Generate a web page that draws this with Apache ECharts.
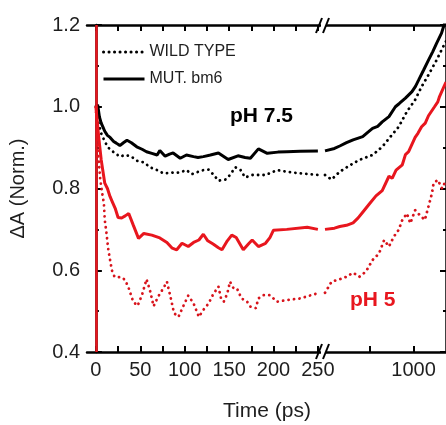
<!DOCTYPE html>
<html>
<head>
<meta charset="utf-8">
<script src="https://cdn.jsdelivr.net/npm/echarts@6/dist/echarts.min.js"></script>
<style>
  html, body { margin: 0; padding: 0; background: #fff; }
  #chart { width: 446px; height: 425px; }
</style>
</head>
<body>
<div id="chart"></div>
<script>
// Normalised transient absorption decays, [time in ps, ΔA]
const wildType75 = [
  [0,1.0],[3,0.96],[6,0.935],[10,0.915],[14,0.9],[18,0.892],[22,0.886],[27,0.878],[33,0.882],[40,0.878],
  [46,0.868],[54,0.864],[61,0.852],[69,0.845],[76,0.837],[86,0.839],[91,0.838],[97,0.841],[102,0.845],
  [108,0.835],[114,0.84],[121,0.845],[127,0.846],[132,0.835],[138,0.819],[146,0.822],[151,0.833],
  [157,0.852],[163,0.845],[168,0.827],[176,0.833],[191,0.833],[204,0.845],[215,0.841],[230,0.837],[250,0.833],
  [257,0.833],[277,0.822],[315,0.841],[370,0.857],[428,0.87],[526,0.882],[612,0.902],[697,0.927],
  [792,0.951],[900,0.988],[1024,1.017],[1133,1.049],[1262,1.078],[1432,1.114],[1588,1.147],[1660,1.16]
];
const mutant75 = [
  [0,1.0],[2,1.005],[4,0.975],[6,0.96],[8,0.95],[10,0.94],[13,0.93],[16,0.925],[20,0.915],[23,0.911],
  [27,0.905],[31,0.912],[35,0.918],[40,0.912],[46,0.902],[52,0.896],[57,0.89],[63,0.886],[69,0.882],
  [72,0.893],[78,0.879],[83,0.884],[87,0.887],[95,0.874],[102,0.882],[110,0.878],[115,0.876],[121,0.878],
  [129,0.882],[138,0.887],[149,0.871],[160,0.88],[168,0.876],[174,0.874],[183,0.897],[193,0.886],
  [205,0.889],[215,0.89],[230,0.891],[250,0.892],
  [257,0.894],[290,0.898],[315,0.904],[350,0.912],[388,0.919],[451,0.927],[490,0.938],[526,0.947],
  [570,0.952],[612,0.963],[680,0.976],[752,1.0],[800,1.008],[880,1.021],[975,1.037],[1030,1.05],
  [1081,1.065],[1170,1.09],[1262,1.114],[1350,1.135],[1432,1.155],[1548,1.18],[1610,1.2],[1660,1.215]
];
const wildType5 = [
  [0,1.0],[2,0.9],[5,0.82],[7,0.79],[9,0.764],[10,0.723],[12,0.69],[14,0.65],[16,0.625],[18,0.6],
  [21,0.584],[25,0.583],[29,0.583],[33,0.576],[37,0.556],[42,0.523],[47,0.513],[52,0.54],[57,0.578],
  [61,0.55],[65,0.512],[70,0.535],[76,0.556],[80,0.572],[84,0.535],[88,0.495],[93,0.486],[99,0.515],
  [104,0.538],[110,0.519],[116,0.486],[121,0.503],[127,0.519],[132,0.541],[138,0.56],[141,0.53],
  [144,0.523],[148,0.543],[151,0.572],[155,0.556],[159,0.555],[164,0.531],[170,0.524],[174,0.511],
  [180,0.507],[183,0.531],[189,0.539],[196,0.539],[204,0.523],[215,0.527],[230,0.531],[247,0.542],[250,0.545],
  [257,0.552],[277,0.572],[315,0.578],[349,0.584],[388,0.594],[428,0.584],[475,0.597],[526,0.625],
  [582,0.641],[631,0.674],[680,0.658],[733,0.682],[792,0.699],[838,0.723],[900,0.739],[950,0.715],
  [1024,0.747],[1100,0.735],[1192,0.723],[1262,0.756],[1332,0.788],[1367,0.813],[1460,0.821],[1560,0.8],[1660,0.82]
];
const mutant5 = [
  [0,1.0],[3,0.93],[6,0.87],[10,0.813],[13,0.8],[16,0.78],[19,0.765],[22,0.75],[25,0.729],[29,0.728],
  [33,0.733],[37,0.739],[42,0.711],[48,0.678],[54,0.69],[63,0.686],[72,0.679],[80,0.668],[86,0.654],
  [91,0.65],[97,0.666],[104,0.658],[110,0.668],[116,0.674],[121,0.688],[126,0.672],[132,0.664],
  [138,0.655],[142,0.65],[148,0.672],[153,0.686],[158,0.68],[166,0.65],[172,0.665],[176,0.674],
  [183,0.658],[191,0.666],[196,0.68],[200,0.698],[215,0.7],[238,0.705],[250,0.7],
  [257,0.702],[290,0.703],[315,0.707],[350,0.71],[388,0.716],[420,0.728],[451,0.742],[500,0.762],
  [555,0.782],[612,0.795],[680,0.83],[715,0.825],[760,0.845],[838,0.858],[880,0.883],[925,0.89],
  [1024,0.925],[1070,0.935],[1133,0.951],[1200,0.96],[1262,0.978],[1387,1.0],[1460,1.012],[1500,1.025],
  [1588,1.045],[1660,1.06]
];

// Axis ticks and labels
const linTicks = [0, 25, 50, 75, 100, 125, 150, 175, 200, 225, 250];
const linLabels = [0, 50, 100, 150, 200, 250];
const logTicks = [500, 1000];
const logLabels = [1000];
const yMin = 0.4, yMax = 1.2, yStep = 0.2;

const BREAK_T = 250;
const FONT = 'Liberation Sans, Arial, sans-serif';
const INK = '#1e1e1e';
const RED = '#e8161e';

const beforeBreak = d => d.filter(p => p[0] <= BREAK_T);
const afterBreak = d => d.filter(p => p[0] >= BREAK_T);

const solid = (color) => ({ color, width: 3, type: 'solid' });
const dotted = (color) => ({ color, width: 2.8, type: [0.1, 5.4], cap: 'round' });

function pair(name, data, style, extra) {
  return [
    Object.assign({ name, type: 'line', xAxisIndex: 0, yAxisIndex: 0, data: beforeBreak(data),
      symbol: 'none', lineStyle: style, itemStyle: { color: style.color }, z: 3 }, extra || {}),
    { name, type: 'line', xAxisIndex: 2, yAxisIndex: 1, data: afterBreak(data),
      symbol: 'none', lineStyle: style, itemStyle: { color: style.color }, z: 3 }
  ];
}

const spine = { show: true, lineStyle: { color: '#000', width: 2.5 } };
const tick = (vals) => ({ show: true, inside: true, length: 6, lineStyle: { color: '#000', width: 2 }, customValues: vals });
const label = { color: INK, fontSize: 20, fontFamily: FONT };

const chart = echarts.init(document.getElementById('chart'), null, { renderer: 'canvas' });

chart.setOption({
  animation: false,
  backgroundColor: '#fff',
  grid: [
    { left: 87, top: 25, width: 234, height: 327 },
    { left: 325, top: 25, width: 123, height: 327 }
  ],
  xAxis: [
    { gridIndex: 0, type: 'value', position: 'bottom', min: -10, max: 253.5,
      axisLine: spine, axisTick: tick(linTicks), splitLine: { show: false },
      axisLabel: Object.assign({ margin: 8, customValues: linLabels, formatter: v => String(v) }, label) },
    { gridIndex: 0, type: 'value', position: 'top', min: -10, max: 253.5,
      axisLine: spine, axisTick: tick(linTicks), splitLine: { show: false },
      axisLabel: { show: false } },
    { gridIndex: 1, type: 'log', position: 'bottom', min: 250, max: 1660,
      axisLine: spine, axisTick: tick(logTicks), splitLine: { show: false }, minorSplitLine: { show: false },
      axisLabel: Object.assign({ margin: 8, customValues: logLabels, formatter: v => String(Math.round(v)) }, label) },
    { gridIndex: 1, type: 'log', position: 'top', min: 250, max: 1660,
      axisLine: spine, axisTick: tick(logTicks), splitLine: { show: false },
      axisLabel: { show: false } }
  ],
  yAxis: [
    { gridIndex: 0, type: 'value', position: 'left', min: yMin, max: yMax, interval: yStep,
      axisLine: spine,
      axisTick: { show: true, inside: true, length: 6, lineStyle: { color: '#000', width: 2 } },
      minorTick: { show: true, splitNumber: 2, length: 3, lineStyle: { color: '#000', width: 2 } },
      splitLine: { show: false },
      axisLabel: Object.assign({ margin: 7, formatter: v => v.toFixed(1) }, label),
      name: 'ΔA (Norm.)', nameLocation: 'middle', nameGap: 59,
      nameTextStyle: { color: INK, fontSize: 20, fontFamily: FONT } },
    { gridIndex: 1, type: 'value', position: 'right', min: yMin, max: yMax, interval: yStep,
      axisLine: spine,
      axisTick: { show: true, inside: true, length: 6, lineStyle: { color: '#000', width: 2 } },
      minorTick: { show: true, splitNumber: 2, length: 3, lineStyle: { color: '#000', width: 2 } },
      splitLine: { show: false }, axisLabel: { show: false } }
  ],
  legend: {
    data: ['WILD TYPE', 'MUT. bm6'],
    orient: 'vertical', left: 102, top: 44, padding: 0,
    itemWidth: 41, itemHeight: 16, itemGap: 11,
    itemStyle: { opacity: 0 },
    lineStyle: { width: 3 },
    textStyle: { color: INK, fontSize: 16, fontFamily: FONT },
    selectedMode: false
  },
  series: [].concat(
    pair('WILD TYPE', wildType75, dotted('#000')),
    pair('MUT. bm6', mutant75, solid('#000')),
    pair('WILD TYPE pH 5', wildType5, dotted('#d8141c')),
    pair('MUT. bm6 pH 5', mutant5, solid(RED), {
      markLine: { silent: true, symbol: 'none', label: { show: false },
        lineStyle: { color: RED, width: 2.5, type: 'solid' },
        data: [{ xAxis: 0 }] }
    })
  ),
  graphic: [
    // axis break marks on the top and bottom spines
    { type: 'rect', shape: { x: 321, y: 18, width: 5, height: 12 }, style: { fill: '#fff' }, z: 100 },
    { type: 'line', shape: { x1: 316, y1: 33, x2: 322, y2: 18 }, style: { stroke: '#000', lineWidth: 2 }, z: 101 },
    { type: 'line', shape: { x1: 323, y1: 33, x2: 329, y2: 18 }, style: { stroke: '#000', lineWidth: 2 }, z: 101 },
    { type: 'rect', shape: { x: 321, y: 346, width: 5, height: 12 }, style: { fill: '#fff' }, z: 100 },
    { type: 'line', shape: { x1: 316, y1: 359, x2: 322, y2: 344 }, style: { stroke: '#000', lineWidth: 2 }, z: 101 },
    { type: 'line', shape: { x1: 323, y1: 359, x2: 329, y2: 344 }, style: { stroke: '#000', lineWidth: 2 }, z: 101 },
    // panel annotations and axis title
    { type: 'text', left: 230, top: 106, style: { text: 'pH 7.5', fill: '#000', font: 'bold 21px ' + FONT }, z: 50 },
    { type: 'text', left: 350, top: 290, style: { text: 'pH 5', fill: RED, font: 'bold 21px ' + FONT }, z: 50 },
    { type: 'text', left: 223, top: 401, style: { text: 'Time (ps)', fill: INK, font: '21px ' + FONT }, z: 50 }
  ]
});
</script>
</body>
</html>
